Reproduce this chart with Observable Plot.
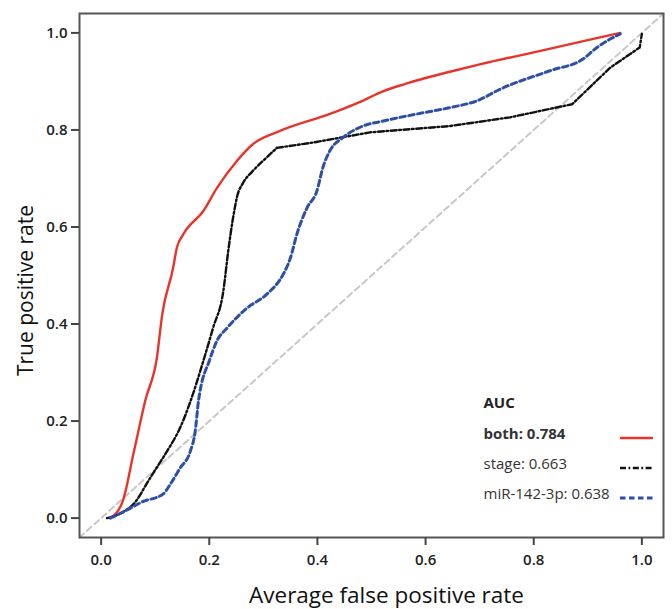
<!DOCTYPE html>
<html>
<head>
<meta charset="utf-8">
<script src="https://cdn.jsdelivr.net/npm/d3@7"></script>
<script src="https://cdn.jsdelivr.net/npm/@observablehq/plot@0.6"></script>
<style>
  html, body { margin: 0; padding: 0; background: #fff; }
  #chart svg { display: block; }
</style>
</head>
<body>
<div id="chart"></div>
<script>
// ROC curves
const bothFPR = [0.017, 0.04, 0.06, 0.082, 0.103, 0.113, 0.133, 0.14, 0.152, 0.189, 0.214, 0.251, 0.281, 0.331, 0.423, 0.479, 0.52, 0.56, 0.6, 0.645, 0.7, 0.8, 0.9, 0.96];
const bothTPR = [0.0, 0.035, 0.134, 0.244, 0.33, 0.42, 0.515, 0.557, 0.585, 0.633, 0.68, 0.736, 0.771, 0.798, 0.833, 0.858, 0.879, 0.894, 0.907, 0.92, 0.935, 0.96, 0.985, 1.0];

const stageFPR = [0.011, 0.04, 0.063, 0.087, 0.105, 0.122, 0.146, 0.165, 0.189, 0.207, 0.226, 0.235, 0.244, 0.252, 0.262, 0.28, 0.3, 0.325, 0.392, 0.497, 0.645, 0.756, 0.871, 0.941, 0.996, 1.0];
const stageTPR = [0.0, 0.012, 0.033, 0.076, 0.108, 0.138, 0.186, 0.24, 0.324, 0.392, 0.468, 0.55, 0.619, 0.665, 0.69, 0.715, 0.737, 0.763, 0.774, 0.795, 0.808, 0.826, 0.853, 0.928, 0.97, 0.998];
const stageBend = 0.325; // smooth below this FPR, straight segments above

const mirFPR = [0.017, 0.045, 0.075, 0.115, 0.128, 0.146, 0.165, 0.174, 0.18, 0.183, 0.2, 0.214, 0.233, 0.27, 0.307, 0.337, 0.35, 0.362, 0.381, 0.399, 0.41, 0.423, 0.447, 0.484, 0.52, 0.58, 0.645, 0.695, 0.738, 0.83, 0.891, 0.917, 0.96];
const mirTPR = [0.0, 0.015, 0.033, 0.05, 0.07, 0.103, 0.138, 0.179, 0.241, 0.262, 0.324, 0.365, 0.392, 0.433, 0.462, 0.503, 0.536, 0.585, 0.64, 0.674, 0.722, 0.757, 0.784, 0.808, 0.818, 0.832, 0.846, 0.86, 0.884, 0.922, 0.946, 0.97, 0.998];

const chance = [-0.04, 1.04];
const ticks = [0, 0.2, 0.4, 0.6, 0.8, 1.0];

const legendTitle = "AUC";
const legendLabels = ["both: 0.784", "stage: 0.663", "miR-142-3p: 0.638"];
const legendBold = [true, false, false];

const toRows = (fpr, tpr) => fpr.map((x, i) => ({x, y: tpr[i]}));
const stageRows = toRows(stageFPR, stageTPR);

const styles = [
  {stroke: "#e8342b", width: 2.4, dash: null},
  {stroke: "#111111", width: 2.4, dash: "6,2.5,1.8,2.5"},
  {stroke: "#2e4fa6", width: 3, dash: "5.5,3.5"}
];

const pieces = [
  {rows: toRows(bothFPR, bothTPR), style: styles[0], curve: "monotone-x"},
  {rows: stageRows.filter(d => d.x <= stageBend), style: styles[1], curve: "monotone-x"},
  {rows: stageRows.filter(d => d.x >= stageBend), style: styles[1], curve: "linear"},
  {rows: toRows(mirFPR, mirTPR), style: styles[2], curve: "monotone-x"}
];

const font = "'Open Sans', 'DejaVu Sans', sans-serif";

const legendRowDy = [-99, -69, -39];

const legendSwatches = (index, scales, values, dims) => {
  const g = d3.create("svg:g");
  const right = dims.width - dims.marginRight;
  const bottom = dims.height - dims.marginBottom;
  styles.forEach((s, i) => {
    g.append("line")
      .attr("x1", right - 43).attr("x2", right - 10)
      .attr("y1", bottom + legendRowDy[i]).attr("y2", bottom + legendRowDy[i])
      .attr("stroke", s.stroke)
      .attr("stroke-width", s.width)
      .attr("stroke-dasharray", s.dash);
  });
  return g.node();
};

const chart = Plot.plot({
  width: 672,
  height: 609,
  marginTop: 13,
  marginRight: 9,
  marginBottom: 72,
  marginLeft: 79,
  style: {fontFamily: font, background: "#fff"},
  x: {domain: [-0.04, 1.04]},
  y: {domain: [-0.04, 1.04]},
  marks: [
    Plot.line(chance.map(v => ({x: v, y: v})), {x: "x", y: "y", stroke: "#c8c8c8", strokeWidth: 2, strokeDasharray: "6,4"}),
    ...pieces.map(p => Plot.line(p.rows, {
      x: "x", y: "y", stroke: p.style.stroke, strokeWidth: p.style.width,
      strokeDasharray: p.style.dash, curve: p.curve, strokeLinejoin: "round"
    })),
    Plot.frame({stroke: "#555", strokeWidth: 2}),
    Plot.axisX({ticks, tickSize: 8, tickPadding: 9, tickFormat: d3.format(".1f"), fontSize: 15, fontWeight: 600, fill: "#222", stroke: "#444", strokeWidth: 2, label: null}),
    Plot.axisY({ticks, tickSize: 8, tickPadding: 4, tickFormat: d3.format(".1f"), fontSize: 15, fontWeight: 600, fill: "#222", stroke: "#444", strokeWidth: 2, label: null}),
    Plot.text(["Average false positive rate"], {frameAnchor: "bottom", dx: 15, dy: 65, fontSize: 22.5, fill: "#111", text: d => d}),
    Plot.text(["True positive rate"], {frameAnchor: "left", textAnchor: "middle", dx: -53, dy: 15, rotate: -90, fontSize: 21, fill: "#111", text: d => d}),
    Plot.text([legendTitle], {frameAnchor: "bottom-right", dx: -180, dy: -130, textAnchor: "start", fontSize: 15, fontWeight: 700, fill: "#222", text: d => d}),
    ...legendLabels.map((lab, i) => Plot.text([lab], {
      frameAnchor: "bottom-right", dx: -180, dy: legendRowDy[i], textAnchor: "start",
      fontSize: 15, fontWeight: legendBold[i] ? 700 : 400, fill: "#333", text: d => d
    })),
    legendSwatches
  ]
});

document.getElementById("chart").appendChild(chart);
</script>
</body>
</html>
